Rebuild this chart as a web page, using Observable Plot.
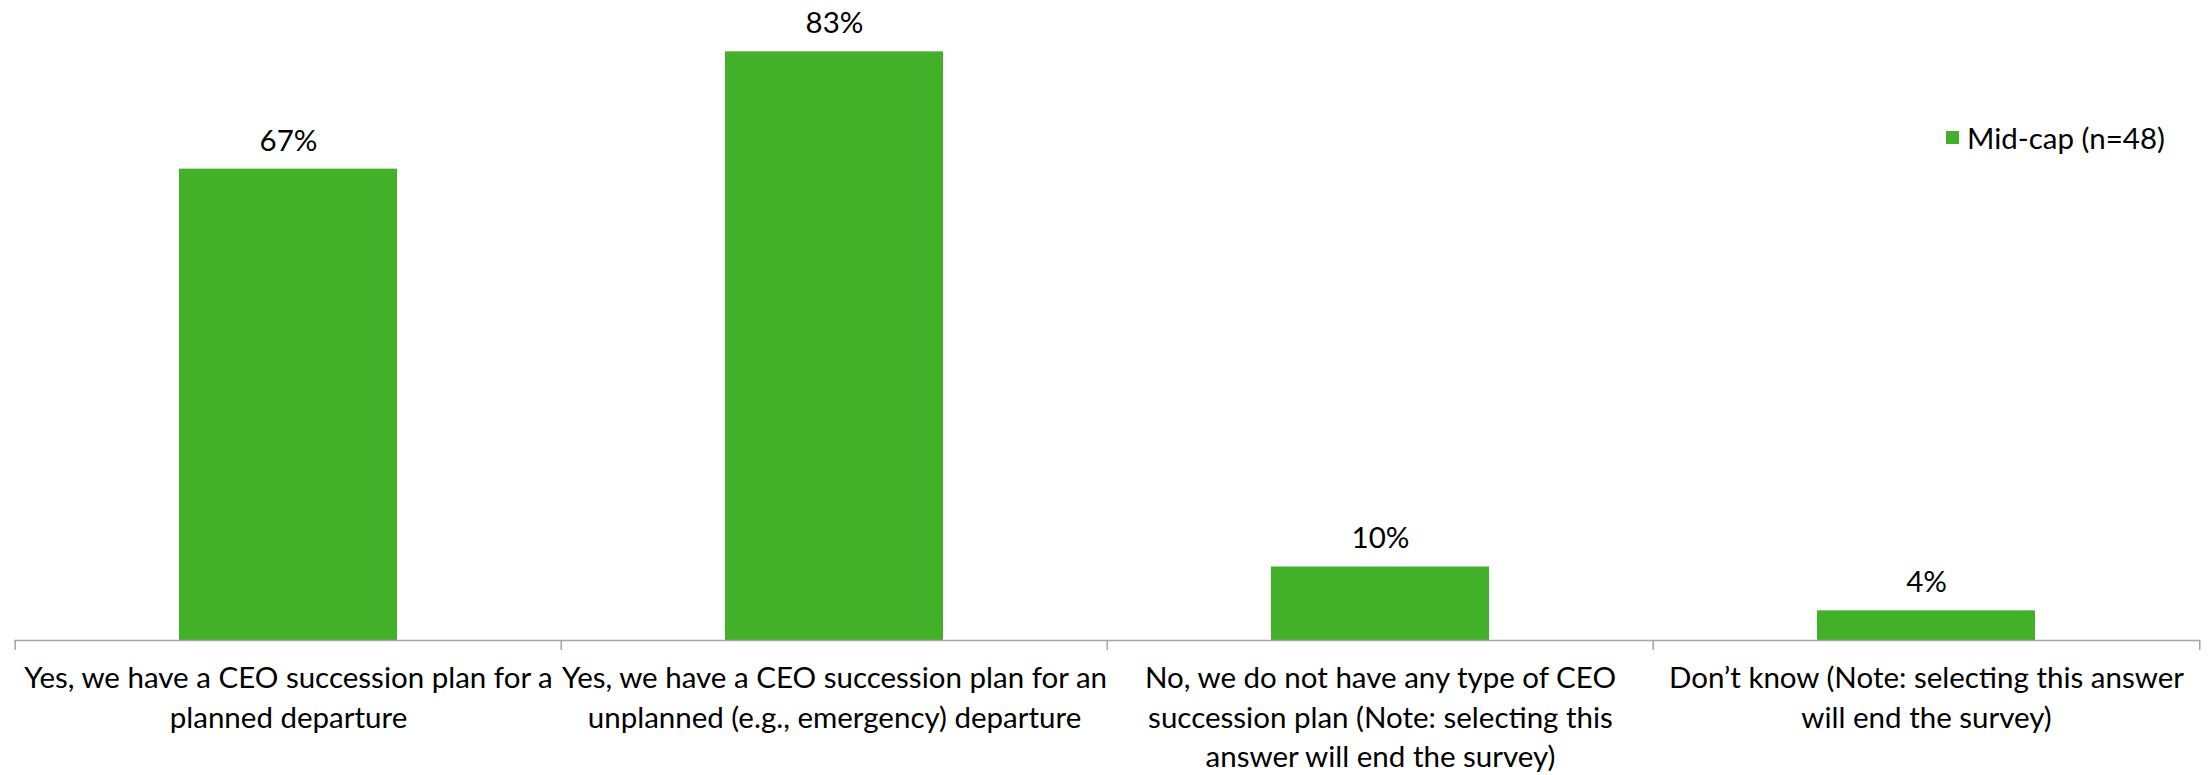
<!DOCTYPE html>
<html>
<head>
<meta charset="utf-8">
<script src="https://cdn.jsdelivr.net/npm/d3@7"></script>
<script src="https://cdn.jsdelivr.net/npm/@observablehq/plot@0.6"></script>
<style>
  html, body { margin: 0; padding: 0; background: #fff; }
  #wrap { position: relative; width: 2208px; height: 775px; font-family: Lato, "Open Sans", sans-serif; }
  #legend { position: absolute; left: 1946px; top: 120px; display: flex; align-items: center; font-size: 29.5px; color: #000; }
  #legend .sw { width: 13px; height: 13px; margin-right: 8px; }
</style>
</head>
<body>
<div id="wrap"></div>
<script>
const categories = [
  "Yes, we have a CEO succession plan for a planned departure",
  "Yes, we have a CEO succession plan for an unplanned (e.g., emergency) departure",
  "No, we do not have any type of CEO succession plan (Note: selecting this answer will end the survey)",
  "Don’t know (Note: selecting this answer will end the survey)"
];
const tickLabels = [
  "Yes, we have a CEO succession plan for a\nplanned departure",
  "Yes, we have a CEO succession plan for an\nunplanned (e.g., emergency) departure",
  "No, we do not have any type of CEO\nsuccession plan (Note: selecting this\nanswer will end the survey)",
  "Don’t know (Note: selecting this answer\nwill end the survey)"
];
const values = [66.7, 83.3, 10.4, 4.2];
const valueLabels = ["67%", "83%", "10%", "4%"];
const seriesName = "Mid-cap (n=48)";
const barColor = "#43B02A";
const axisColor = "#A6A6A6";

const data = categories.map((c, i) => ({cat: c, value: values[i], label: valueLabels[i], tick: tickLabels[i]}));

const W = 2208, H = 775, mL = 14, mR = 8, mT = 4, mB = 135;
const step = (W - mL - mR) / categories.length;

const chart = Plot.plot({
  width: W, height: H,
  marginLeft: mL, marginRight: mR, marginTop: mT, marginBottom: mB,
  x: {domain: categories, paddingInner: 0.6, paddingOuter: 0.3, axis: null},
  y: {domain: [0, 90], axis: null},
  style: {fontFamily: "Lato, 'Open Sans', sans-serif", background: "#fff", color: "#000"},
  marks: [
    Plot.barY(data, {x: "cat", y: "value", fill: barColor}),
    Plot.ruleY([0], {stroke: axisColor, strokeWidth: 1.5}),
    Plot.ruleX(data, {x: "cat", dx: -step / 2, insetTop: H - mT - mB, insetBottom: -10, stroke: axisColor, strokeWidth: 1.5}),
    Plot.ruleX(data.slice(-1), {x: "cat", dx: step / 2, insetTop: H - mT - mB, insetBottom: -10, stroke: axisColor, strokeWidth: 1.5}),
    Plot.text(data, {x: "cat", y: "value", text: "label", dy: -28, fontSize: 29.5, fill: "#000"}),
    Plot.text(data, {x: "cat", y: 0, text: "tick", dy: 20, lineAnchor: "top", lineHeight: 1.33, fontSize: 29.5, fill: "#000"})
  ]
});

const wrap = document.getElementById("wrap");
wrap.appendChild(chart);
const legend = document.createElement("div");
legend.id = "legend";
legend.innerHTML = `<div class="sw" style="background:${barColor}"></div><span>${seriesName}</span>`;
wrap.appendChild(legend);
</script>
</body>
</html>
